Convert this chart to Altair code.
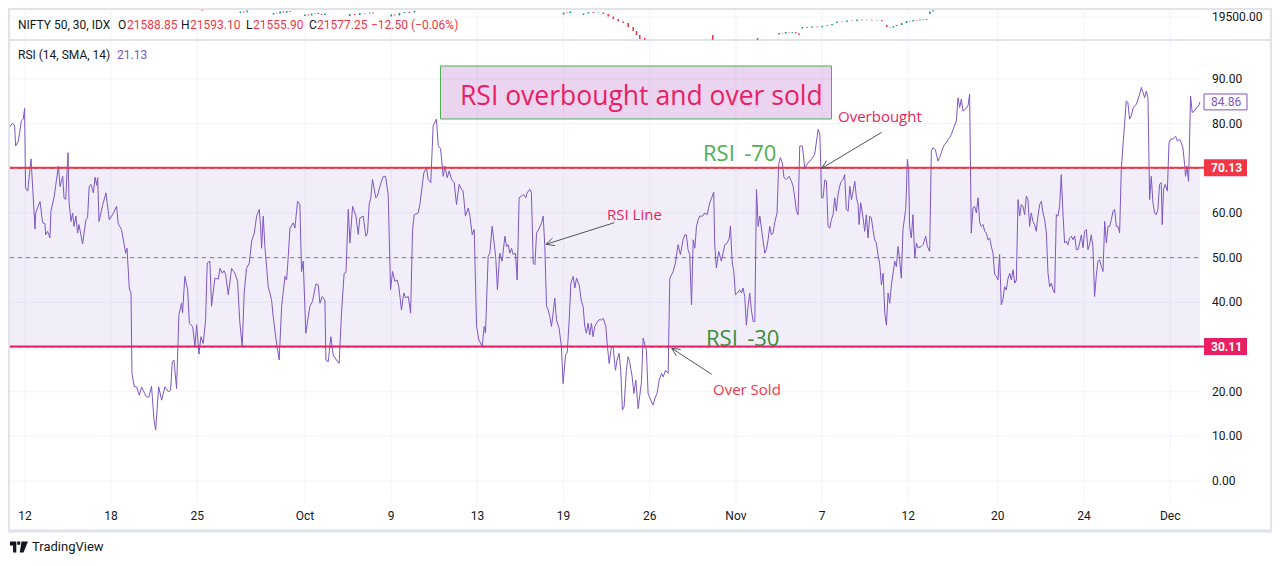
import math
import altair as alt
import pandas as pd

# ---------------- RSI series (bar index of 30-min bars, RSI value) ----------------
rsi_bar = [
    0.0, 1.6, 2.8, 3.4, 5.0, 6.0, 6.8, 8.0, 8.8, 9.4,
    10.7, 12.7, 15.1, 15.5, 18.1, 19.7, 21.1, 21.5, 22.7, 24.1,
    24.7, 26.7, 29.2, 30.2, 31.8, 32.6, 33.6, 35.0, 35.6, 36.8,
    37.8, 38.6, 39.8, 40.8, 41.6, 43.8, 45.8, 46.8, 47.8, 48.9,
    50.3, 51.3, 52.3, 52.9, 53.7, 55.7, 57.9, 59.9, 62.3, 64.3,
    65.3, 67.3, 69.8, 70.6, 72.0, 73.0, 73.6, 75.0, 76.4, 78.0,
    79.4, 82.4, 83.8, 85.4, 86.9, 87.9, 89.7, 91.5, 93.5, 95.5,
    96.9, 97.9, 98.9, 100.5, 101.9, 103.5, 104.1, 105.5, 107.2, 108.2,
    110.2, 111.6, 112.6, 114.0, 115.2, 116.6, 118.0, 119.0, 120.6, 121.6,
    123.6, 125.7, 126.7, 128.1, 129.1, 130.1, 131.7, 133.7, 135.7, 137.3,
    138.7, 140.1, 141.3, 142.7, 144.4, 145.8, 147.4, 148.8, 150.4, 151.2,
    151.8, 152.8, 153.8, 155.8, 157.8, 158.8, 160.4, 162.4, 163.9, 165.9,
    166.9, 167.9, 168.9, 170.9, 171.9, 173.5, 174.9, 175.9, 176.9, 178.5,
    180.9, 182.5, 184.6, 186.0, 187.0, 188.4, 190.0, 190.6, 192.0, 193.6,
    195.0, 197.0, 198.6, 200.0, 201.6, 202.7, 204.1, 205.1, 206.7, 208.7,
    210.1, 211.1, 213.1, 214.7, 215.7, 216.7, 217.7, 218.7, 220.7, 221.7,
    223.2, 225.2, 226.6, 228.2, 229.6, 230.8, 232.2, 233.6, 234.6, 236.2,
    237.6, 238.8, 240.3, 241.7, 242.9, 243.9, 246.3,
    247.3, 249.7, 251.3, 252.3, 253.9, 255.3, 257.3, 258.4, 259.8, 261.4,
    262.4, 263.8, 265.0, 266.4, 268.0, 269.4, 271.0, 272.4, 273.4, 274.8,
    276.5, 277.5, 278.9, 280.1, 281.5, 282.9, 284.9, 286.1, 286.9, 288.5,
    289.5, 290.9, 292.1, 293.1, 294.1, 295.5, 296.9, 298.6, 299.6, 300.6,
    301.6, 302.6, 303.6, 305.0, 306.0, 307.2, 308.6, 310.0, 311.2, 312.0,
    313.6, 314.6, 315.7, 316.7, 317.7, 319.3, 320.7, 321.7, 322.7, 323.7,
    324.7, 325.7, 326.7, 327.7, 328.7, 329.7, 331.3, 332.7, 333.7, 335.2,
    336.2, 337.4, 338.4, 339.8, 340.8, 341.8, 343.4, 344.8, 345.8, 346.8,
    347.8, 348.8, 349.8, 350.8, 351.8, 352.8, 353.9, 355.3, 356.9, 357.9,
    359.5, 360.3, 361.5, 362.9, 363.9, 365.3, 366.3, 367.5, 368.5, 369.5,
    370.5, 371.9, 372.9, 373.9, 375.4, 376.4, 377.6, 379.0, 380.0, 381.0,
    382.0, 384.0, 385.0, 386.6, 388.0, 389.4, 390.4, 391.7, 393.1, 394.1,
    395.5, 397.1, 398.1, 400.1, 401.5, 403.1, 404.5, 406.1, 407.1, 408.1,
    409.1, 410.1, 411.2, 412.2, 413.2, 414.2, 415.2, 416.2, 417.8, 419.2,
    420.6, 422.2, 423.8, 424.6, 425.2, 426.2, 427.6, 429.2, 430.2, 431.3,
    432.7, 433.9, 434.7, 435.7, 436.7, 437.7, 438.9, 440.3, 441.3, 442.3,
    443.3, 444.3, 445.3, 446.3, 447.3, 448.4, 449.4, 450.4, 451.4, 452.4,
    454.4, 455.4, 456.4, 457.4, 458.4, 459.4, 460.4, 461.4, 462.8, 463.8,
    464.8, 466.0, 467.0, 468.4, 470.1, 471.5, 472.5, 473.5, 474.5, 475.5,
    476.5, 478.1, 479.5, 481.5, 483.5, 485.5, 487.6,
    488.6, 489.2, 489.6, 490.6, 491.6, 492.6, 493.6, 494.6, 495.6, 496.6,
    497.6, 498.6, 499.6, 500.6, 501.6, 502.6, 503.6, 504.6, 505.7, 506.7,
    507.7, 508.7, 509.7, 510.7, 511.7, 512.3, 513.3, 514.3, 515.7, 516.7,
    517.7, 518.7, 519.7, 520.7, 521.7, 522.7, 523.7, 524.7, 525.8, 526.8,
    527.8, 528.8, 529.8, 530.8, 531.8, 532.8, 533.8, 534.8, 535.8, 536.8,
    537.8, 538.8, 540.4, 540.8, 541.4, 542.2, 542.8, 543.8, 544.8, 545.9,
    546.9, 547.9, 549.9, 550.9, 552.5, 553.5, 554.9, 555.9, 556.9, 558.3,
    559.9, 560.9, 561.9, 562.9, 563.9, 564.9, 566.0, 567.0, 568.0, 569.0,
    571.0, 572.0, 573.0, 574.0, 575.0, 576.4, 578.0, 579.0, 580.0, 581.0,
    582.0, 583.1, 584.1, 585.1, 586.1, 587.1, 588.1, 589.1, 590.1, 591.1,
    592.1, 593.1, 594.1, 595.1, 596.1, 597.1, 598.1, 599.1, 600.1, 601.1,
    602.2, 603.2, 604.2, 605.2, 606.2, 607.2, 608.2, 609.2, 610.2, 611.2,
    612.2, 613.2, 614.2, 615.2, 616.2, 617.2, 618.2, 619.2, 620.2, 621.3,
    622.3, 623.3, 624.3, 625.3, 626.3, 627.3, 628.3, 629.3, 630.3, 631.3,
    632.3, 633.3, 634.3, 635.3, 636.3, 637.3, 638.3, 639.3, 640.4, 641.4,
    642.4, 643.4, 644.4, 645.4, 646.4, 647.4, 648.4, 649.4, 650.4, 651.4,
    652.4, 653.4, 654.4, 655.4, 656.4, 657.4, 658.5, 659.5, 660.5, 661.5,
    662.5, 663.5, 664.5, 665.5, 666.5, 667.5, 668.5, 669.5, 670.5, 671.5,
    672.5, 673.5, 674.5, 675.5, 676.5, 677.5, 678.6, 679.6, 680.6, 681.6,
    682.6, 683.6, 684.6, 685.6, 686.6, 687.6, 688.6, 689.6, 690.6, 691.6,
    692.6, 693.6, 694.6, 695.2, 696.0, 697.0, 698.3, 699.3, 700.3, 701.7,
    702.7, 703.3, 704.3, 705.7, 706.7, 707.7, 708.7, 709.3, 710.1, 711.1,
    711.7, 712.3, 713.3, 714.7, 715.7, 717.2, 718.0,
]
rsi_val = [
    79.3, 80.1, 79.5, 75.0, 76.1, 78.4, 80.6, 81.0, 83.4, 65.6,
    64.9, 72.1, 56.4, 60.0, 62.6, 57.8, 57.6, 55.1, 55.9, 54.4,
    60.4, 63.8, 70.5, 65.9, 68.2, 63.4, 63.0, 73.5, 62.6, 58.1,
    60.0, 57.0, 59.3, 55.5, 57.4, 53.1, 58.5, 58.9, 66.0, 66.4,
    64.5, 68.0, 66.2, 67.9, 58.1, 61.5, 64.5, 58.5, 59.9, 61.5,
    57.6, 56.3, 51.0, 52.1, 43.0, 42.1, 24.1, 21.1, 21.1, 19.2,
    21.0, 18.8, 18.8, 21.2, 13.6, 11.4, 21.1, 18.1, 21.1, 20.0,
    20.3, 26.7, 27.1, 20.7, 37.2, 39.8, 37.6, 45.8, 42.8, 35.3,
    34.6, 30.1, 35.0, 28.4, 32.3, 30.8, 36.1, 48.8, 49.2, 39.1,
    45.4, 45.2, 47.6, 46.5, 47.1, 46.2, 41.7, 47.6, 46.5, 44.7,
    35.3, 30.1, 42.1, 47.6, 48.8, 53.7, 55.5, 59.3, 60.8, 57.0,
    52.1, 59.3, 52.5, 43.5, 40.6, 36.8, 32.0, 27.1, 39.1, 45.8,
    45.0, 50.3, 56.6, 57.8, 56.6, 62.6, 61.9, 46.9, 49.2, 33.1,
    39.1, 40.2, 44.1, 43.9, 39.8, 41.3, 40.5, 27.1, 26.7, 32.3,
    28.2, 27.1, 26.3, 37.6, 46.5, 46.7, 60.8, 53.3, 61.5, 59.3,
    55.2, 58.9, 59.3, 54.8, 55.5, 61.9, 63.4, 67.5, 63.4, 63.8,
    66.0, 68.2, 68.2, 64.1, 42.8, 46.9, 44.7, 45.0, 43.5, 38.3,
    42.1, 41.0, 41.3, 37.6, 56.3, 59.6, 60.0,
    61.9, 69.0, 70.1, 67.5, 66.8, 79.5, 81.0, 75.0, 74.4, 68.2,
    70.5, 67.9, 69.4, 67.5, 66.8, 61.9, 66.4, 65.3, 64.9, 59.3,
    61.1, 59.3, 55.1, 56.3, 34.6, 31.6, 30.1, 34.6, 33.1, 50.3,
    51.0, 57.0, 53.3, 49.9, 42.8, 51.0, 49.2, 54.8, 52.5, 52.9,
    51.0, 52.1, 50.7, 51.0, 45.0, 63.4, 63.8, 64.1, 63.4, 64.5,
    65.3, 64.5, 48.8, 48.4, 55.5, 56.6, 57.8, 59.3, 52.5, 39.1,
    38.3, 36.8, 34.6, 37.6, 40.9, 36.1, 34.2, 30.1, 21.8, 28.2,
    28.7, 36.1, 44.3, 45.8, 43.2, 45.4, 43.9, 40.2, 39.1, 34.6,
    33.1, 35.3, 32.7, 35.3, 32.3, 34.6, 35.3, 36.1, 36.1, 36.4,
    34.6, 30.8, 26.3, 30.1, 30.1, 24.8, 27.1, 28.6, 24.8, 15.9,
    16.6, 24.8, 27.8, 26.7, 23.3, 19.6, 22.6, 16.2, 19.2, 22.2,
    32.0, 29.3, 19.6, 18.1, 17.0, 18.8, 19.6, 22.6, 24.1, 23.3,
    24.8, 24.1, 45.4, 46.9, 48.8, 52.9, 50.7, 54.0, 55.1, 55.1,
    51.8, 50.7, 39.4, 54.0, 52.1, 57.0, 58.5, 59.3, 59.3, 60.0,
    59.6, 62.3, 63.8, 64.7, 52.9, 47.7, 51.4, 49.2, 51.0, 52.9,
    53.3, 54.2, 57.0, 49.2, 46.9, 41.7, 42.1, 42.8, 42.1, 43.2,
    41.3, 34.9, 39.1, 42.1, 38.3, 35.7, 35.7, 65.3, 57.0, 59.3,
    53.7, 51.0, 51.8, 54.0, 57.0, 55.1, 55.5, 57.8, 60.0, 70.9,
    72.4, 71.2, 67.9, 67.5, 68.2, 67.1, 66.0, 63.4, 60.4, 59.6,
    75.0, 75.0, 70.1, 71.2, 72.0, 73.1, 78.7,
    77.6, 70.5, 63.4, 63.4, 67.4, 67.1, 57.0, 56.6, 58.5, 59.6,
    63.4, 60.4, 64.1, 66.0, 67.1, 67.5, 68.6, 60.8, 60.4, 66.0,
    63.0, 64.9, 67.1, 63.4, 61.9, 57.4, 62.3, 60.0, 55.9, 59.6,
    54.4, 59.3, 58.9, 56.3, 54.0, 53.3, 50.7, 48.8, 43.9, 46.5,
    37.6, 34.9, 42.1, 39.8, 43.9, 46.5, 49.2, 48.0, 52.5, 49.5,
    45.4, 56.3, 60.8, 64.1, 72.0, 69.7, 57.0, 54.4, 59.6, 49.9,
    53.3, 52.2, 52.5, 52.9, 54.8, 52.5, 51.4, 73.9, 74.6, 74.2,
    71.6, 72.4, 73.5, 74.6, 75.4, 75.7, 76.5, 76.9, 77.6, 78.7,
    80.6, 85.8, 83.6, 85.5, 82.8, 83.2, 84.0, 86.6, 55.5, 61.1,
    61.5, 60.0, 63.4, 57.8, 57.0, 57.4, 55.9, 55.5, 54.0, 54.4,
    52.5, 51.0, 46.2, 45.8, 45.0, 50.7, 39.4, 40.6, 43.5, 42.8,
    45.4, 46.5, 45.0, 47.3, 44.3, 45.0, 63.0, 59.3, 61.9, 61.5,
    59.6, 63.8, 63.0, 57.0, 60.0, 58.1, 57.4, 55.9, 59.3, 61.9,
    62.6, 60.0, 58.5, 55.5, 46.5, 43.5, 44.3, 42.8, 42.1, 59.6,
    59.3, 61.5, 68.6, 60.0, 53.3, 53.7, 52.9, 54.4, 54.8, 54.0,
    54.8, 51.8, 51.8, 53.3, 55.1, 52.2, 55.9, 56.3, 51.8, 52.9,
    55.1, 52.5, 41.3, 45.8, 49.2, 49.5, 48.0, 46.9, 58.1, 53.3,
    57.0, 57.0, 58.5, 60.4, 60.8, 57.0, 57.0, 55.5, 69.7, 75.0,
    79.9, 85.1, 84.7, 81.0, 81.7, 83.3, 84.0, 84.3, 85.5, 86.6,
    88.1, 87.0, 85.8, 87.3, 85.8, 63.0, 68.2, 62.3, 60.0, 59.6,
    60.8, 66.4, 66.8, 57.4, 65.3, 66.4, 64.9, 75.7, 76.5, 76.6,
    76.9, 77.2, 76.1, 76.5, 75.7, 74.6, 70.9, 68.2, 70.5, 67.1,
    76.1, 86.2, 82.5, 82.8, 83.6, 84.0, 84.86,
]
assert len(rsi_bar) == len(rsi_val)

# ---------------- time axis ----------------
date_labels = ["12", "18", "25", "Oct", "9", "13", "19", "26", "Nov", "7", "12", "20", "24", "Dec"]
date_bars = [9, 61, 113, 178, 230, 282, 334, 386, 438, 490, 542, 596, 648, 700]

# ---------------- RSI scale / levels ----------------
grid_values = [0, 10, 20, 30, 40, 50, 60, 70, 80, 90]
scale_values = [0, 10, 20, 40, 50, 60, 80, 90]
scale_text = ["0.00", "10.00", "20.00", "40.00", "50.00", "60.00", "80.00", "90.00"]
band_lower, band_middle, band_upper = 30, 50, 70
level_values = [70.13, 30.11]
level_text = ["70.13", "30.11"]
level_colors = ["#f23645", "#e91e63"]
last_value = [84.86]
last_text = ["84.86"]

# ---------------- price pane (candles peeking into the top pane) ----------------
candle_bar = [116, 139, 141, 143, 159, 161, 163, 165, 167, 169,
              178, 180, 182, 184, 186, 188, 190, 205, 208, 211, 214, 217, 219,
              230, 232, 235, 238, 241, 244, 334, 336, 338,
              346, 349, 352, 355, 358, 361, 364, 367, 370, 373, 376, 378, 380, 383,
              424, 451, 464, 466, 468, 470, 472, 474, 476,
              478, 481, 484, 487, 490, 493, 496,
              499, 502, 505, 508, 511, 514, 517, 520, 523, 526,
              529, 531, 533, 535, 538, 541, 543, 545, 547, 549, 551, 553, 555, 557]
candle_open = [19568, 19540, 19555, 19548, 19525, 19540, 19535, 19555, 19545, 19560,
               19510, 19525, 19515, 19535, 19540, 19530, 19520, 19510, 19530, 19520, 19540, 19535, 19545,
               19505, 19525, 19515, 19540, 19550, 19545, 19525, 19545, 19540,
               19520, 19535, 19550, 19540, 19545, 19530, 19505, 19480, 19455, 19440, 19400, 19360, 19320, 19290,
               19320, 19272, 19325, 19340, 19335, 19345, 19340, 19348, 19335,
               19385, 19400, 19392, 19405, 19398, 19412, 19418,
               19440, 19455, 19450, 19465, 19460, 19475, 19468, 19472, 19465, 19470,
               19420, 19400, 19395, 19410, 19420, 19440, 19460, 19455, 19470, 19465, 19475, 19470, 19530, 19555]
candle_close = [19562, 19555, 19545, 19565, 19540, 19535, 19555, 19545, 19560, 19550,
                19525, 19515, 19535, 19540, 19530, 19520, 19535, 19530, 19520, 19540, 19535, 19545, 19535,
                19525, 19515, 19540, 19550, 19540, 19562, 19545, 19540, 19555,
                19535, 19550, 19540, 19545, 19530, 19505, 19480, 19455, 19440, 19400, 19360, 19320, 19280, 19272,
                19272, 19290, 19340, 19335, 19350, 19340, 19348, 19335, 19320,
                19400, 19392, 19405, 19398, 19412, 19420, 19430,
                19455, 19450, 19465, 19460, 19475, 19468, 19472, 19465, 19470, 19458,
                19400, 19395, 19410, 19420, 19440, 19460, 19455, 19470, 19465, 19475, 19470, 19480, 19555, 19568]
assert len(candle_bar) == len(candle_open) == len(candle_close)
price_grid_value = [19500]
price_grid_text = "19500.00"

# ---------------- layout helpers ----------------
W, H = 1190, 459          # plot area (screen x 10..1200, y 41..500)
OX, OY = 10, 41


def px(x):
    return x - OX


def py(y):
    return y - OY


XS = alt.Scale(domain=[0, 718], nice=False, zero=False)
YS = alt.Scale(domain=[-4.25, 98.5], nice=False, zero=False)
PS = alt.Scale(domain=[19270, 19570], range=[py(40), py(10)], nice=False, zero=False)

one = pd.DataFrame({"k": [0]})
TXT = "#131722"
GRID = "#f0f3fa"
FRAME = "#e0e3eb"
PURPLE = "#7e57c2"
FONT = "Roboto"
AFONT = "Open Sans"


def hline(y, x1, x2, color, w=1):
    return alt.Chart(one).mark_rule(color=color, strokeWidth=w).encode(
        x=alt.value(px(x1)), x2=alt.value(px(x2)), y=alt.value(py(y)))


def vline(x, y1, y2, color, w=1):
    return alt.Chart(one).mark_rule(color=color, strokeWidth=w).encode(
        x=alt.value(px(x)), y=alt.value(py(y1)), y2=alt.value(py(y2)))


def seg(x1, y1, x2, y2, color, w=1):
    return alt.Chart(one).mark_rule(color=color, strokeWidth=w).encode(
        x=alt.value(px(x1)), y=alt.value(py(y1)), x2=alt.value(px(x2)), y2=alt.value(py(y2)))


def label(t, x, y, color=TXT, size=12, font=FONT, align="left", baseline="middle", weight="normal"):
    return alt.Chart(one).mark_text(text=t, color=color, fontSize=size, font=font, align=align,
                                    baseline=baseline, fontWeight=weight).encode(
        x=alt.value(px(x)), y=alt.value(py(y)))


layers = []

# vertical grid (both panes)
df_dates = pd.DataFrame({"bar": date_bars, "lab": date_labels})
layers.append(alt.Chart(df_dates).mark_rule(color=GRID, strokeWidth=1).encode(
    x=alt.X("bar:Q", scale=XS, axis=None), y=alt.value(py(11)), y2=alt.value(py(503))))

# horizontal grid
df_grid = pd.DataFrame({"v": grid_values})
layers.append(alt.Chart(df_grid).mark_rule(color=GRID, strokeWidth=1).encode(
    y=alt.Y("v:Q", scale=YS, axis=None), x=alt.value(0), x2=alt.value(W)))
df_pg = pd.DataFrame({"p": price_grid_value})
layers.append(alt.Chart(df_pg).mark_rule(color=GRID, strokeWidth=1).encode(
    y=alt.Y("p:Q", scale=PS, axis=None), x=alt.value(0), x2=alt.value(W)))

# frame
layers.append(hline(9, 8, 1272, FRAME, 2))
layers.append(hline(531, 8, 1272, FRAME, 3))
layers.append(vline(9, 8, 532, FRAME, 2))
layers.append(vline(1271, 8, 532, FRAME, 2))
layers.append(hline(40, 9, 1271, FRAME, 2))

# RSI band fill
df_band = pd.DataFrame({"lo": [band_lower], "hi": [band_upper]})
layers.append(alt.Chart(df_band).mark_rect(color=PURPLE, opacity=0.1).encode(
    y=alt.Y("hi:Q", scale=YS, axis=None), y2="lo:Q", x=alt.value(0), x2=alt.value(W)))

# dashed band lines
df_dash = pd.DataFrame({"v": [band_upper, band_middle, band_lower]})
layers.append(alt.Chart(df_dash).mark_rule(color="#787b86", strokeWidth=1, strokeDash=[4, 4]).encode(
    y=alt.Y("v:Q", scale=YS, axis=None), x=alt.value(0), x2=alt.value(W)))

# candles in the top pane
df_c = pd.DataFrame({"bar": candle_bar, "open": candle_open, "close": candle_close})
df_c["dir"] = ["up" if c >= o else "down" for o, c in zip(candle_open, candle_close)]
layers.append(alt.Chart(df_c).mark_rule(strokeWidth=1.6).encode(
    x=alt.X("bar:Q", scale=XS, axis=None),
    y=alt.Y("open:Q", scale=PS, axis=None), y2="close:Q",
    color=alt.Color("dir:N", scale=alt.Scale(domain=["up", "down"], range=["#089981", "#f23645"]), legend=None)))

# RSI line
df_rsi = pd.DataFrame({"bar": rsi_bar, "rsi": rsi_val, "i": list(range(len(rsi_bar)))})
layers.append(alt.Chart(df_rsi).mark_line(color=PURPLE, strokeWidth=1).encode(
    x=alt.X("bar:Q", scale=XS, axis=None), y=alt.Y("rsi:Q", scale=YS, axis=None), order="i:Q"))

# user drawn horizontal levels
df_lvl = pd.DataFrame({"v": level_values, "c": level_colors, "t": level_text})
layers.append(alt.Chart(df_lvl).mark_rule(strokeWidth=2).encode(
    y=alt.Y("v:Q", scale=YS, axis=None), color=alt.Color("c:N", scale=None),
    x=alt.value(0), x2=alt.value(px(1205))))

# title box
layers.append(alt.Chart(one).mark_rect(fill="#9c27b0", fillOpacity=0.2, stroke="#4caf50", strokeWidth=1).encode(
    x=alt.value(px(440.5)), x2=alt.value(px(831.5)), y=alt.value(py(66)), y2=alt.value(py(119))))
layers.append(label("RSI overbought and over sold", 460, 105, color="#e91e63", size=26.5, font=AFONT,
                    baseline="alphabetic"))

# annotation texts
layers.append(label("RSI \u2009-70", 703, 161, color="#4caf50", size=22, font=AFONT, baseline="alphabetic"))
layers.append(label("RSI \u2009-30", 706, 346, color="#388e3c", size=22, font=AFONT, baseline="alphabetic"))
layers.append(label("Overbought", 838, 122, color="#e91e63", size=15, font=AFONT, baseline="alphabetic"))
layers.append(label("RSI Line", 607, 220, color="#e91e63", size=15, font=AFONT, baseline="alphabetic"))
layers.append(label("Over Sold", 713, 395, color="#f23645", size=15, font=AFONT, baseline="alphabetic"))

# arrows
ARROW = "#50535e"
arrows = [((881.7, 132.3), (821.7, 168.3)),
          ((614.3, 222.7), (546.0, 244.3)),
          ((711.7, 374.3), (671.7, 348.3))]
for (x1, y1), (x2, y2) in arrows:
    layers.append(seg(x1, y1, x2, y2, ARROW, 1))
    ang = math.atan2(y1 - y2, x1 - x2)
    for d in (0.45, -0.45):
        hx = x2 + 9 * math.cos(ang + d)
        hy = y2 + 9 * math.sin(ang + d)
        layers.append(seg(x2, y2, hx, hy, ARROW, 1))

# right price scale labels
df_sc = pd.DataFrame({"v": scale_values, "t": scale_text})
layers.append(alt.Chart(df_sc).mark_text(align="left", baseline="middle", font=FONT, fontSize=12, color=TXT).encode(
    y=alt.Y("v:Q", scale=YS, axis=None), x=alt.value(px(1212)), text="t:N"))
layers.append(alt.Chart(df_pg.assign(t=[price_grid_text])).mark_text(
    align="left", baseline="middle", font=FONT, fontSize=12, color=TXT).encode(
    y=alt.Y("p:Q", scale=PS, axis=None), x=alt.value(px(1212)), text="t:N"))

BOX = "M-1,-0.395H1V0.395H-1Z"
layers.append(alt.Chart(df_lvl).mark_point(shape=BOX, size=1849, filled=True, opacity=1).encode(
    y=alt.Y("v:Q", scale=YS, axis=None), x=alt.value(px(1225.5)), color=alt.Color("c:N", scale=None)))
layers.append(alt.Chart(df_lvl).mark_text(align="left", baseline="middle", font=FONT, fontSize=12,
                                          fontWeight="bold", color="white").encode(
    y=alt.Y("v:Q", scale=YS, axis=None), x=alt.value(px(1211)), text="t:N"))

df_last = pd.DataFrame({"v": last_value, "t": last_text})
layers.append(alt.Chart(df_last).mark_point(shape="M-1,-0.37H1V0.37H-1Z", size=1849, fill="white",
                                            stroke=PURPLE, strokeWidth=1, opacity=1, fillOpacity=1).encode(
    y=alt.Y("v:Q", scale=YS, axis=None), x=alt.value(px(1225.5))))
layers.append(alt.Chart(df_last).mark_text(align="left", baseline="middle", font=FONT, fontSize=12,
                                           color=PURPLE).encode(
    y=alt.Y("v:Q", scale=YS, axis=None), x=alt.value(px(1211)), text="t:N"))

# time axis labels
layers.append(alt.Chart(df_dates).mark_text(align="center", baseline="middle", font=FONT, fontSize=12,
                                            color=TXT).encode(
    x=alt.X("bar:Q", scale=XS, axis=None), y=alt.value(py(516)), text="lab:N"))

# legends / header
header = [("NIFTY 50, 30, IDX", 18, TXT), ("O", 118, TXT), ("21588.85", 127, "#f23645"),
          ("H", 181, TXT), ("21593.10", 190, "#f23645"), ("L", 246, TXT), ("21555.90", 253, "#f23645"),
          ("C", 309, TXT), ("21577.25", 317, "#f23645"), ("\u221212.50 (\u22120.06%)", 371, "#f23645")]
for t, x, c in header:
    layers.append(label(t, x, 25, color=c, size=12))
layers.append(label("RSI (14, SMA, 14)", 18, 55, color=TXT, size=12))
layers.append(label("21.13", 117, 55, color=PURPLE, size=12))

# TradingView watermark
LOGO = ("M-1,-0.6H-0.3V0.6H-0.66V-0.16H-1Z "
        "M-0.2,-0.6H0.14V-0.26H-0.2Z "
        "M0.28,-0.6H1L0.5,0.6H0.08Z")
layers.append(alt.Chart(one).mark_point(shape=LOGO, size=324, filled=True, opacity=1, color=TXT).encode(
    x=alt.value(px(19)), y=alt.value(py(547))))
layers.append(label("TradingView", 32, 547, color=TXT, size=13))

chart = alt.layer(*layers).resolve_scale(y="independent").properties(
    width=W, height=H,
    autosize=alt.AutoSizeParams(type="none"),
    padding={"left": 2, "top": 33, "right": 72, "bottom": 58},
    background="white",
).configure_view(strokeWidth=0)

chart.save("out.html", embed_options={"renderer": "svg", "actions": False})
